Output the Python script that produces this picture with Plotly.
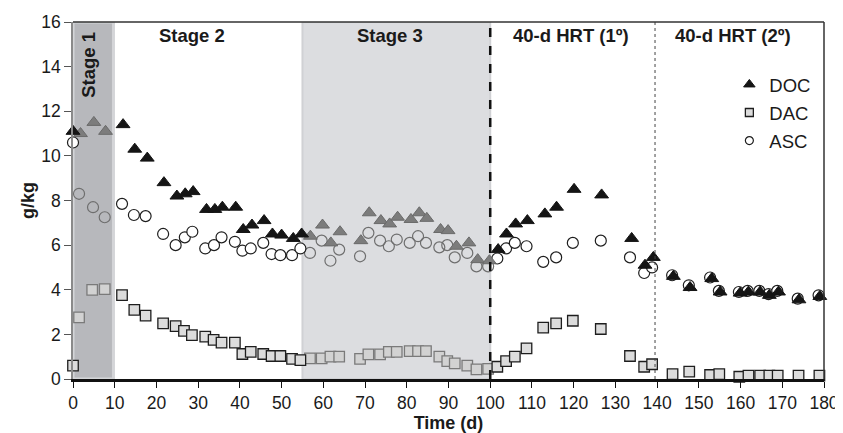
import plotly.graph_objects as go

# ---------------- data ----------------
doc_day = [0, 1.8, 5, 7.8, 12, 14.8, 17.8, 21.8, 24.9, 26.9, 28.8, 32, 34, 35.8, 39,
           40.8, 42.9, 45.8, 47.8, 50, 52.8, 54.8, 56.9, 59.8, 61.8, 64, 69, 71, 73.8,
           75.9, 77.8, 81, 83, 84.8, 88.1, 89.9, 91.9, 94.9, 97, 99.8, 101.9, 103.9,
           106.1, 108.9, 113.1, 115.9, 120.1, 126.7, 133.9, 137.1, 139.1, 143.9, 147.9,
           153.1, 155.1, 159.9, 161.9, 164.7, 166.9, 169.1, 174, 179]
doc_val = [11.1, 11.0, 11.5, 11.1, 11.4, 10.3, 9.9, 8.8, 8.2, 8.3, 8.4, 7.6, 7.6, 7.7, 7.7,
           6.7, 6.9, 7.1, 6.5, 6.45, 6.3, 6.5, 6.4, 6.9, 6.1, 6.6, 6.2, 7.45, 7.1,
           6.95, 7.25, 7.15, 7.45, 7.2, 6.7, 6.65, 5.95, 6.1, 5.35, 5.3, 5.8, 6.5,
           6.95, 7.1, 7.4, 7.7, 8.5, 8.25, 6.3, 5.1, 5.45, 4.6, 4.1,
           4.5, 3.9, 3.85, 3.9, 3.9, 3.75, 3.9, 3.55, 3.7]

dac_day = [0, 1.45, 4.6, 7.6, 11.75, 14.7, 17.4, 21.6, 24.6, 26.6, 28.5, 31.7, 33.7, 35.6,
           38.8, 40.6, 42.6, 45.6, 47.6, 49.7, 52.5, 54.5, 56.8, 59.6, 61.7, 63.8, 68.8,
           70.8, 73.6, 75.7, 77.6, 80.7, 82.7, 84.6, 87.8, 89.7, 91.5, 94.5, 96.7, 99.5,
           101.7, 103.8, 105.9, 108.7, 112.7, 115.8, 119.8, 126.5, 133.5, 136.9, 138.8,
           143.7, 147.7, 152.7, 154.9, 159.7, 161.9, 164.7, 166.9, 168.9, 173.9, 178.9]
dac_val = [0.6, 2.76, 3.99, 4.03, 3.76, 3.1, 2.84, 2.49, 2.37, 2.16, 1.97, 1.9, 1.75, 1.63,
           1.63, 1.12, 1.22, 1.12, 1.03, 1.03, 0.9, 0.85, 0.92, 0.92, 1.0, 1.0, 0.9,
           1.1, 1.1, 1.22, 1.22, 1.25, 1.25, 1.25, 1.0, 0.8, 0.7, 0.6, 0.43, 0.45,
           0.55, 0.8, 1.0, 1.37, 2.3, 2.49, 2.61, 2.24, 1.03, 0.55, 0.66,
           0.22, 0.33, 0.18, 0.22, 0.1, 0.15, 0.15, 0.15, 0.15, 0.15, 0.15]

asc_day = [0, 1.45, 4.8, 7.6, 11.75, 14.6, 17.4, 21.6, 24.6, 26.8, 28.6, 31.7, 33.8, 35.6,
           38.8, 40.6, 42.6, 45.6, 47.6, 49.7, 52.5, 54.5, 56.8, 59.6, 61.7, 63.8, 68.8,
           70.8, 73.6, 75.7, 77.6, 80.7, 82.7, 84.6, 87.8, 89.7, 91.5, 94.5, 96.7, 99.5,
           101.7, 103.8, 105.9, 108.7, 112.7, 115.8, 119.8, 126.5, 133.5, 136.9, 138.8,
           143.6, 147.6, 152.7, 154.8, 159.6, 161.7, 164.5, 166.7, 168.8, 173.7, 178.7]
asc_val = [10.6, 8.3, 7.7, 7.25, 7.85, 7.35, 7.3, 6.5, 6.0, 6.35, 6.6, 5.85, 6.0, 6.35,
           6.15, 5.75, 5.85, 6.1, 5.6, 5.55, 5.55, 5.85, 5.65, 6.2, 5.3, 5.8, 5.5,
           6.55, 6.2, 5.95, 6.25, 6.1, 6.4, 6.1, 5.9, 6.0, 5.45, 5.65, 5.05, 5.05,
           5.4, 5.85, 6.1, 5.95, 5.25, 5.45, 6.1, 6.2, 5.45, 4.75, 5.0,
           4.65, 4.2, 4.55, 3.95, 3.9, 3.95, 3.95, 3.8, 3.95, 3.6, 3.75]

stage_labels = ["Stage 2", "Stage 3", "40-d HRT (1º)", "40-d HRT (2º)"]
stage_label_x = [28.6, 76, 119.4, 158.1]
stage1_band = [0, 9.7]
stage3_band = [55, 100]
hrt_split = 139.5
x_ticks = list(range(0, 181, 10))
y_ticks = list(range(0, 17, 2))

FONT = "Liberation Sans, Arial, Helvetica, sans-serif"


def in_band(d):
    return (stage1_band[0] + 0.8 <= d <= stage1_band[1]) or (stage3_band[0] <= d <= stage3_band[1])


def split(days, vals):
    a = ([], [])
    b = ([], [])
    for d, v in zip(days, vals):
        t = b if in_band(d) else a
        t[0].append(d)
        t[1].append(v)
    return a, b


fig = go.Figure()

styles = {
    "ASC": dict(symbol="circle", size=11,
                normal=dict(color="white", line=dict(color="#1e1e1e", width=1.2)),
                band=dict(color="rgba(0,0,0,0)", line=dict(color="#6e6e6e", width=1.2))),
    "DAC": dict(symbol="square", size=10.5,
                normal=dict(color="#dcdcdc", line=dict(color="#1e1e1e", width=1.3)),
                band=dict(color="#d2d2d2", line=dict(color="#7a7a7a", width=1.3))),
    "DOC": dict(symbol="triangle-up", size=12,
                normal=dict(color="#151515", line=dict(color="#151515", width=1)),
                band=dict(color="#7c7c7c", line=dict(color="#6a6a6a", width=1))),
}
series = {"ASC": (asc_day, asc_val), "DAC": (dac_day, dac_val), "DOC": (doc_day, doc_val)}

for name in ["ASC", "DAC", "DOC"]:
    st = styles[name]
    norm, band = split(*series[name])
    for part, key in ((band, "band"), (norm, "normal")):
        fig.add_trace(go.Scatter(
            x=part[0], y=part[1], mode="markers", showlegend=False, cliponaxis=False,
            marker=dict(symbol=st["symbol"], size=st["size"], color=st[key]["color"],
                        line=st[key]["line"]),
            hoverinfo="x+y", name=name))

# legend entries
leg_sizes = {"DOC": 10, "DAC": 8, "ASC": 8}
for rank, name in enumerate(["DOC", "DAC", "ASC"]):
    st = styles[name]
    fig.add_trace(go.Scatter(
        x=[None], y=[None], mode="markers", name=name, legendrank=rank + 1,
        legendgroup=name,
        marker=dict(symbol=st["symbol"], size=leg_sizes[name], color=st["normal"]["color"],
                    line=st["normal"]["line"])))

# bands
fig.add_shape(type="rect", xref="x", yref="y", x0=stage1_band[0], x1=stage1_band[1], y0=0, y1=16,
              fillcolor="#b7b8bc", line=dict(color="#d4d5d8", width=3), layer="below")
fig.add_shape(type="rect", xref="x", yref="y", x0=stage3_band[0], x1=stage3_band[1], y0=0, y1=16,
              fillcolor="#dcdde0", line=dict(color="#d0d1d4", width=2), layer="below")
# dividers
fig.add_shape(type="line", xref="x", yref="y", x0=stage3_band[1], x1=stage3_band[1], y0=0, y1=16,
              line=dict(color="#111111", width=2.5, dash="dash"))
fig.add_shape(type="line", xref="x", yref="y", x0=hrt_split, x1=hrt_split, y0=0, y1=16,
              line=dict(color="#444444", width=1, dash="dot"))
# top & right borders
fig.add_shape(type="line", xref="paper", yref="paper", x0=0, x1=1, y0=1, y1=1,
              line=dict(color="#333333", width=1.5))
fig.add_shape(type="line", xref="paper", yref="paper", x0=1, x1=1, y0=0, y1=1,
              line=dict(color="#333333", width=1.5))

for lab, lx in zip(stage_labels, stage_label_x):
    fig.add_annotation(x=lx, y=15.4, xref="x", yref="y", text="<b>%s</b>" % lab, showarrow=False,
                       font=dict(family=FONT, size=18.5, color="#1a1a1a"))
fig.add_annotation(x=3.7, y=14.1, xref="x", yref="y", text="<b>Stage 1</b>", showarrow=False,
                   textangle=-90, font=dict(family=FONT, size=18.5, color="#1a1a1a"))

fig.update_layout(
    width=835, height=425,
    margin=dict(l=65, r=19, t=14, b=54, autoexpand=False),
    plot_bgcolor="white", paper_bgcolor="white",
    font=dict(family=FONT, size=17.5, color="#1a1a1a"),
    legend=dict(x=0.874, y=0.877, xanchor="left", yanchor="top", bgcolor="rgba(0,0,0,0)",
                font=dict(family=FONT, size=18.5, color="#1a1a1a"), tracegroupgap=1,
                itemwidth=30),
    xaxis=dict(range=[0, 180], tickvals=x_ticks, showgrid=False, zeroline=False,
               automargin=False,
               showline=True, linecolor="#111111", linewidth=2.5,
               ticks="outside", ticklen=6, tickcolor="#111111", tickwidth=1,
               tickfont=dict(size=17.5),
               title=dict(text="<b>Time (d)</b>", font=dict(size=18), standoff=2)),
    yaxis=dict(range=[0, 16], tickvals=y_ticks, showgrid=False, zeroline=False,
               automargin=False,
               showline=True, linecolor="#8a8a8a", linewidth=1.5,
               ticks="outside", ticklen=7, tickcolor="#555555", tickwidth=1,
               tickfont=dict(size=17.5),
               title=dict(text="<b>g/kg</b>", font=dict(size=18), standoff=2)),
)

fig.write_html("out.html")
